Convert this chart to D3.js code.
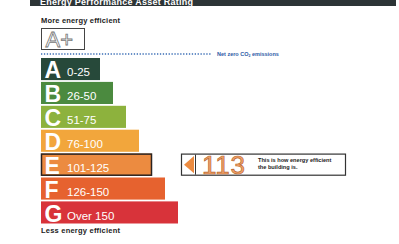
<!DOCTYPE html>
<html>
<head>
<meta charset="utf-8">
<script src="https://cdn.jsdelivr.net/npm/d3@7"></script>
<style>
  html, body { margin: 0; padding: 0; background: #fff; }
  svg { display: block; }
</style>
</head>
<body>
<svg id="chart"></svg>
<script>
// Bandas de calificación
const letters = ["A", "B", "C", "D", "E", "F", "G"];
const ranges = ["0-25", "26-50", "51-75", "76-100", "101-125", "126-150", "Over 150"];
const upperBounds = [25, 50, 75, 100, 125, 150, Infinity];
const bandColors = ["#27493a", "#4b8a3f", "#8db23d", "#f2a63c", "#ec8b40", "#e6622f", "#d8333a"];
const rating = 113;

const width = 399;
const height = 244;
const font = "'Liberation Sans', Arial, sans-serif";

const svg = d3.select("#chart")
    .attr("width", width)
    .attr("height", height);

// Escalas
const y = d3.scaleBand()
    .domain(letters)
    .range([58, 223.5])
    .paddingInner(0.075)
    .paddingOuter(0);

const w = d3.scaleLinear()
    .domain([0, letters.length - 1])
    .range([59, 137]);

const x0 = 41;

// Cabecera oscura (cortada arriba)
svg.append("rect")
    .attr("x", 30).attr("y", 0)
    .attr("width", 366).attr("height", 6)
    .attr("fill", "#2c3436");

svg.append("text")
    .attr("x", 40).attr("y", 5)
    .attr("font-family", font)
    .attr("font-weight", "bold")
    .attr("font-size", 9)
    .attr("textLength", 153)
    .attr("fill", "#fff")
    .text("Energy Performance Asset Rating");

svg.append("text")
    .attr("x", 41).attr("y", 23)
    .attr("font-family", font)
    .attr("font-weight", "bold")
    .attr("font-size", 7.5)
    .attr("textLength", 79)
    .attr("fill", "#222")
    .text("More energy efficient");

// Caja A+
svg.append("rect")
    .attr("x", 41.5).attr("y", 28.5)
    .attr("width", 43).attr("height", 21)
    .attr("fill", "#fff")
    .attr("stroke", "#444")
    .attr("stroke-width", 1);

svg.append("text")
    .attr("x", 45.5).attr("y", 46.5)
    .attr("font-family", font)
    .attr("font-size", 22)
    .attr("fill", "#fff")
    .attr("stroke", "#777")
    .attr("stroke-width", 0.8)
    .text("A+");

// Línea punteada de cero neto
svg.append("line")
    .attr("x1", 41).attr("x2", 212)
    .attr("y1", 54).attr("y2", 54)
    .attr("stroke", "#3a6db5")
    .attr("stroke-width", 1.3)
    .attr("stroke-dasharray", "1.3,1.6");

const co2 = svg.append("text")
    .attr("x", 217).attr("y", 56)
    .attr("font-family", font)
    .attr("font-weight", "bold")
    .attr("font-size", 5.5)
    .attr("fill", "#2d5aa6");
co2.append("tspan").text("Net zero CO");
co2.append("tspan").attr("font-size", 3.5).attr("dy", 1).text("2");
co2.append("tspan").attr("dy", -1).text(" emissions");

// Barras
const bands = svg.selectAll("g.band")
    .data(letters)
    .enter().append("g")
    .attr("class", "band");

bands.append("rect")
    .attr("x", x0)
    .attr("y", d => y(d))
    .attr("width", (d, i) => w(i))
    .attr("height", y.bandwidth())
    .attr("fill", (d, i) => bandColors[i]);

bands.append("text")
    .attr("x", x0 + 3.5)
    .attr("y", d => y(d) + y.bandwidth() - 2)
    .attr("font-family", font)
    .attr("font-weight", "bold")
    .attr("font-size", 23)
    .attr("fill", "#fff")
    .text(d => d);

bands.append("text")
    .attr("x", x0 + 26)
    .attr("y", d => y(d) + y.bandwidth() - 4)
    .attr("font-family", font)
    .attr("font-size", 11.5)
    .attr("fill", "#fff")
    .text((d, i) => ranges[i]);

// Banda de la calificación con borde
const ratingIndex = upperBounds.findIndex(u => rating <= u);
const ratingLetter = letters[ratingIndex];

svg.append("rect")
    .attr("x", x0 + 0.5)
    .attr("y", y(ratingLetter) + 0.5)
    .attr("width", w(ratingIndex) - 1)
    .attr("height", y.bandwidth() - 1)
    .attr("fill", "none")
    .attr("stroke", "#2a2320")
    .attr("stroke-width", 1.5);

// Indicador de la calificación
const bx = 181;
const by = y(ratingLetter);
const bh = y.bandwidth();

svg.append("rect")
    .attr("x", bx + 0.5).attr("y", by + 0.5)
    .attr("width", 164).attr("height", bh - 1)
    .attr("fill", "#fff")
    .attr("stroke", "#333")
    .attr("stroke-width", 1.2);

svg.append("path")
    .attr("d", `M${bx + 3},${by + bh / 2} L${bx + 13},${by + 2.5} L${bx + 13},${by + bh - 2.5} Z`)
    .attr("fill", bandColors[ratingIndex]);

svg.append("line")
    .attr("x1", bx + 14.5).attr("x2", bx + 14.5)
    .attr("y1", by + 1).attr("y2", by + bh - 1)
    .attr("stroke", "#333")
    .attr("stroke-width", 1);

svg.append("text")
    .attr("x", bx + 21)
    .attr("y", by + bh - 1.5)
    .attr("font-family", font)
    .attr("font-size", 26)
    .attr("textLength", 43)
    .attr("fill", "#f2a26a")
    .attr("stroke", "#b8682f")
    .attr("stroke-width", 0.7)
    .text(rating);

svg.append("text")
    .attr("x", bx + 77).attr("y", by + 8)
    .attr("font-family", font)
    .attr("font-weight", "bold")
    .attr("font-size", 5.6)
    .attr("fill", "#222")
    .text("This is how energy efficient");

svg.append("text")
    .attr("x", bx + 77).attr("y", by + 15)
    .attr("font-family", font)
    .attr("font-weight", "bold")
    .attr("font-size", 5.6)
    .attr("fill", "#222")
    .text("the building is.");

svg.append("text")
    .attr("x", 41).attr("y", 233)
    .attr("font-family", font)
    .attr("font-weight", "bold")
    .attr("font-size", 7.5)
    .attr("textLength", 79)
    .attr("fill", "#222")
    .text("Less energy efficient");
</script>
</body>
</html>
